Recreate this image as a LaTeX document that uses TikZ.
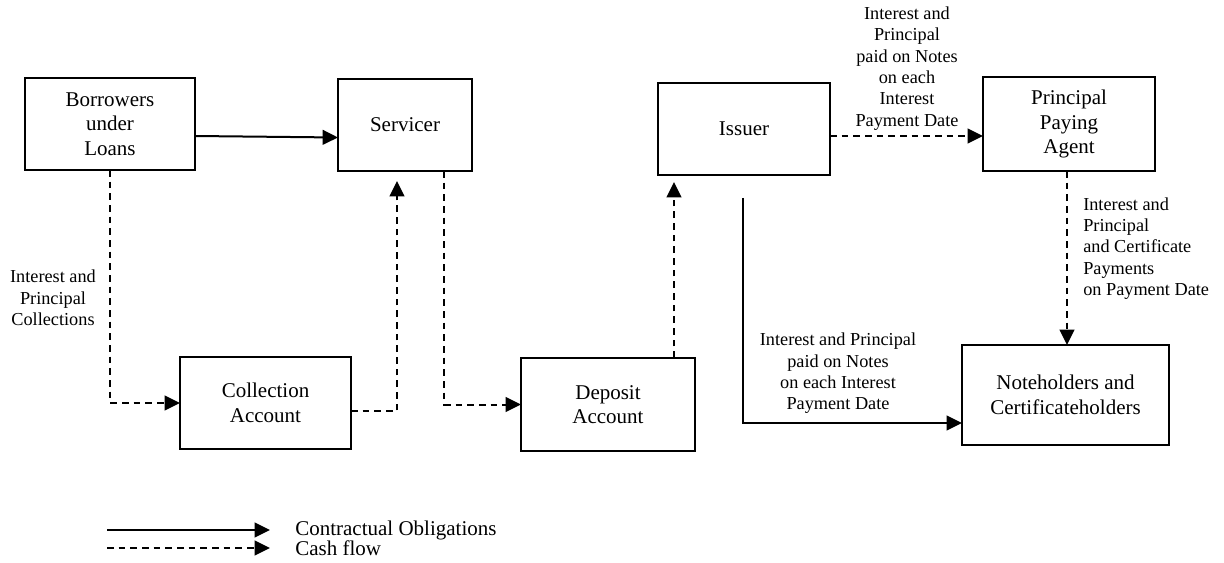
\documentclass[tikz,border=0pt]{standalone}
\usepackage{fontspec}
\setmainfont{Liberation Serif}
\usetikzlibrary{arrows.meta,calc}
\begin{document}
\begin{tikzpicture}[x=0.75pt,y=-0.75pt,
  box/.style={draw,line width=1.5pt,inner sep=0pt,outer sep=0pt,align=center,
    font=\fontsize{15.75}{18.4}\selectfont},
  lab/.style={inner sep=0pt,align=center,font=\fontsize{13.7}{16}\selectfont},
  legtext/.style={inner sep=0pt,anchor=west,font=\fontsize{15.75}{18.4}\selectfont},
  contract/.style={line width=1.5pt,-{Triangle[length=11.5pt,width=11pt]}},
  cash/.style={line width=1.5pt,dash pattern=on 5pt off 3.75pt,-{Triangle[length=11.5pt,width=11pt]}}]
\useasboundingbox (0,0) rectangle (1224,563);
% boxes
\node[box,minimum width=127.5pt,minimum height=69pt] (bor) at (110,124) {Borrowers\\under\\Loans};
\node[box,minimum width=100.5pt,minimum height=69pt] (serv) at (405,125) {Servicer};
\node[box,minimum width=129pt,minimum height=69pt] (iss) at (744,129) {Issuer};
\node[box,minimum width=129pt,minimum height=70.5pt] (ppa) at (1069,124) {Principal\\Paying\\Agent};
\node[box,minimum width=128.25pt,minimum height=69pt] (coll) at (265.5,403) {Collection\\Account};
\node[box,minimum width=130.5pt,minimum height=69.75pt] (dep) at (608,404.5) {Deposit\\Account};
\node[box,minimum width=155.25pt,minimum height=75pt] (note) at (1065.5,395) {Noteholders and\\Certificateholders};
% labels
\node[lab] (lab1) at (53,298) {Interest and\\Principal\\Collections};
\node[lab] (lab2) at (907,68.5) {Interest and\\Principal\\paid on Notes\\on each\\Interest\\Payment Date};
\node[lab,anchor=west,align=left] (lab3) at (1083,248.5) {Interest and\\Principal\\and Certificate\\Payments\\on Payment Date};
\node[lab] (lab4) at (838,373.5) {Interest and Principal\\paid on Notes\\on each Interest\\Payment Date};
% helper coordinates
\coordinate (pp) at ($(ppa.south)+(-2,0)$);
\coordinate (is) at ($(iss.south)+(-1,23)$);
% connectors
\draw[contract] ($(bor.east)+(0,12)$) -- ($(serv.west)+(0,12.5)$);
\draw[cash] (bor.south) |- (coll.west);
\draw[cash,shorten >=7.5pt] ($(coll.east)+(0,8)$) -| ($(serv.south)+(-8,0)$);
\draw[cash] ($(serv.south)+(39,0)$) |- (dep.west);
\draw[cash,shorten >=5.25pt] ($(dep.north)+(66,0)$) -- ($(iss.south)+(-70,0)$);
\draw[cash] ($(iss.east)+(0,7)$) -- ($(ppa.west)+(0,12)$);
\draw[cash] (pp) -- (pp |- note.north);
\draw[contract] (is) |- ($(note.west)+(0,28)$);
% legend
\coordinate (ls1) at (107,530);
\coordinate (le1) at (270,530);
\coordinate (ls2) at (107,548);
\coordinate (le2) at (270,548);
\draw[contract] (ls1) -- (le1);
\draw[cash] (ls2) -- (le2);
\node[legtext] (lt1) at (295,530) {Contractual Obligations};
\node[legtext] (lt2) at (295,548) {Cash flow};
\end{tikzpicture}
\end{document}
